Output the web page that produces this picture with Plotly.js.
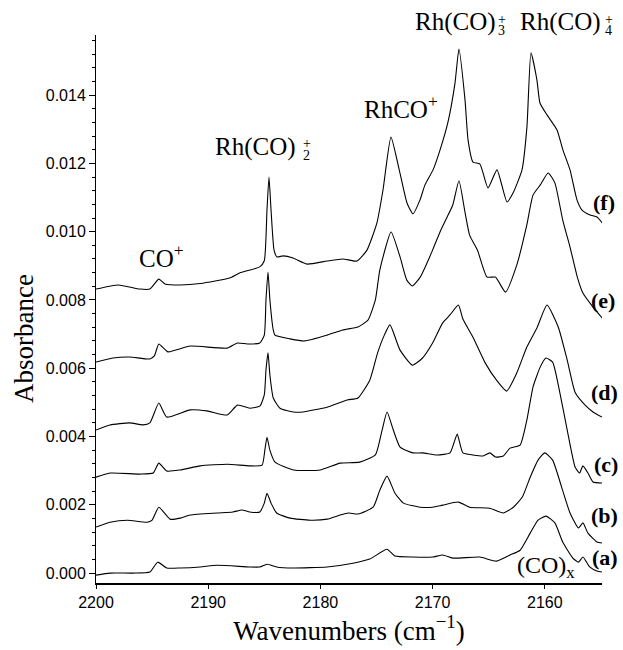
<!DOCTYPE html>
<html><head><meta charset="utf-8">
<script src="https://cdn.plot.ly/plotly-3.0.1.min.js"></script>
<style>html,body{margin:0;padding:0;background:#fff;}#chart{width:623px;height:650px;}</style>
</head><body><div id="chart"></div>
<script>
// Spectrum (a)
const wn_a = [2200.0,2198.75,2196.7,2195.2,2194.5,2193.7,2192.5,2190.7,2189.2,2186.3,2185.4,2184.76,2183.9,2182.4,2179.4,2177.1,2175.6,2174.06,2173.35,2171.75,2170.0,2169.1,2168.2,2165.8,2164.3,2163.1,2162.2,2161.3,2160.6,2159.9,2159.1,2158.4,2157.5,2157.0,2156.6,2156.0,2155.35,2154.9];
const abs_a = [-0.00006,0.00000,0.00000,0.00003,0.00032,0.00015,0.00015,0.00018,0.00023,0.00018,0.00018,0.00026,0.00018,0.00015,0.00018,0.00029,0.00041,0.00070,0.00050,0.00047,0.00047,0.00053,0.00044,0.00047,0.00035,0.00053,0.00067,0.00117,0.00155,0.00167,0.00147,0.00091,0.00044,0.00032,0.00047,0.00018,0.00006,0.00003];
// Spectrum (b)
const wn_b = [2200.0,2198.75,2197.2,2195.45,2195.0,2194.4,2193.4,2192.5,2191.6,2189.2,2187.8,2187.0,2186.3,2185.4,2185.0,2184.76,2184.4,2183.9,2182.7,2180.9,2179.4,2178.25,2177.5,2176.65,2175.3,2174.7,2174.06,2173.35,2172.6,2171.1,2170.0,2169.1,2167.7,2166.7,2164.9,2163.7,2162.8,2162.0,2161.3,2160.6,2160.0,2159.3,2158.5,2157.75,2157.0,2156.6,2156.15,2155.35,2154.9];
const abs_b = [0.00135,0.00149,0.00155,0.00149,0.00155,0.00193,0.00158,0.00161,0.00170,0.00176,0.00179,0.00185,0.00179,0.00179,0.00205,0.00234,0.00205,0.00176,0.00161,0.00155,0.00158,0.00170,0.00176,0.00173,0.00193,0.00243,0.00284,0.00234,0.00205,0.00193,0.00193,0.00199,0.00208,0.00193,0.00190,0.00176,0.00193,0.00223,0.00281,0.00331,0.00352,0.00331,0.00252,0.00176,0.00132,0.00147,0.00117,0.00091,0.00088];
// Spectrum (c)
const wn_c = [2200.0,2198.75,2196.1,2194.9,2194.4,2193.7,2192.5,2190.7,2188.3,2186.3,2185.2,2184.95,2184.76,2184.5,2184.05,2182.4,2180.0,2178.25,2176.5,2175.1,2174.5,2174.06,2173.5,2172.9,2171.75,2170.9,2169.6,2168.45,2168.1,2167.8,2167.3,2166.4,2165.5,2164.9,2164.4,2163.7,2163.1,2162.2,2161.6,2161.05,2160.4,2159.9,2159.3,2158.65,2158.0,2157.3,2156.9,2156.6,2156.15,2155.7,2154.9];
const abs_c = [0.00281,0.00293,0.00290,0.00293,0.00322,0.00299,0.00302,0.00314,0.00319,0.00314,0.00316,0.00360,0.00398,0.00360,0.00325,0.00302,0.00302,0.00322,0.00325,0.00346,0.00419,0.00472,0.00419,0.00369,0.00352,0.00352,0.00346,0.00352,0.00381,0.00407,0.00352,0.00346,0.00343,0.00352,0.00340,0.00343,0.00366,0.00375,0.00448,0.00545,0.00604,0.00630,0.00618,0.00527,0.00419,0.00311,0.00293,0.00314,0.00293,0.00267,0.00264];
// Spectrum (d)
const wn_d = [2200.0,2198.75,2197.0,2195.8,2195.2,2194.4,2193.7,2191.6,2190.1,2188.3,2187.4,2186.3,2185.4,2185.0,2184.85,2184.67,2184.5,2184.2,2183.6,2182.4,2181.55,2179.4,2177.6,2176.65,2175.6,2174.9,2174.3,2173.8,2172.9,2171.8,2170.9,2170.0,2169.1,2168.45,2167.7,2167.3,2166.4,2165.3,2164.3,2163.4,2162.5,2161.6,2160.7,2159.8,2158.8,2158.0,2157.3,2156.4,2155.7,2154.9];
const abs_d = [0.00419,0.00434,0.00440,0.00434,0.00440,0.00498,0.00457,0.00478,0.00475,0.00463,0.00492,0.00483,0.00489,0.00522,0.00595,0.00645,0.00580,0.00513,0.00483,0.00472,0.00472,0.00486,0.00507,0.00513,0.00565,0.00645,0.00697,0.00727,0.00653,0.00609,0.00630,0.00674,0.00733,0.00756,0.00785,0.00744,0.00691,0.00615,0.00565,0.00533,0.00586,0.00662,0.00718,0.00785,0.00721,0.00624,0.00530,0.00492,0.00472,0.00457];
// Spectrum (e)
const wn_e = [2200.0,2198.5,2197.0,2195.2,2194.8,2194.4,2193.6,2191.6,2188.3,2187.4,2186.5,2185.4,2185.0,2184.85,2184.67,2184.5,2184.2,2184.05,2182.7,2181.4,2179.4,2178.0,2176.65,2175.76,2175.1,2174.7,2173.7,2172.9,2172.3,2171.8,2171.1,2170.5,2170.0,2169.3,2168.7,2168.2,2167.65,2167.1,2166.7,2166.0,2165.15,2164.4,2163.5,2162.5,2161.6,2161.05,2160.4,2159.7,2159.1,2158.4,2157.75,2157.1,2156.6,2155.7,2154.8];
const abs_e = [0.00618,0.00630,0.00633,0.00627,0.00636,0.00671,0.00648,0.00665,0.00659,0.00674,0.00671,0.00674,0.00697,0.00800,0.00882,0.00800,0.00712,0.00697,0.00686,0.00680,0.00697,0.00712,0.00721,0.00741,0.00800,0.00888,0.00999,0.00926,0.00858,0.00841,0.00867,0.00908,0.00946,0.01002,0.01043,0.01078,0.01149,0.01055,0.00990,0.00946,0.00867,0.00867,0.00823,0.00902,0.01020,0.01107,0.01137,0.01172,0.01143,0.01034,0.00955,0.00867,0.00820,0.00779,0.00744];
// Spectrum (f)
const wn_f = [2200.0,2198.0,2196.1,2195.2,2194.4,2193.85,2192.5,2190.7,2188.1,2187.2,2185.4,2185.0,2184.76,2184.58,2184.40,2184.13,2183.87,2183.33,2182.44,2181.19,2179.41,2177.99,2176.74,2175.85,2174.96,2174.42,2173.71,2172.91,2172.28,2171.75,2171.12,2170.68,2169.96,2169.34,2168.63,2168.0,2167.65,2167.11,2166.84,2166.40,2165.78,2165.06,2164.26,2163.37,2162.83,2162.03,2161.59,2161.23,2160.70,2160.43,2159.80,2158.91,2158.38,2157.75,2157.13,2156.7,2155.97,2155.35,2154.81];
const abs_f = [0.00832,0.00844,0.00832,0.00832,0.00861,0.00847,0.00844,0.00848,0.00864,0.00879,0.00897,0.00915,0.01064,0.01160,0.01064,0.00946,0.00926,0.00929,0.00923,0.00905,0.00914,0.00920,0.00914,0.00946,0.01026,0.01122,0.01277,0.01172,0.01084,0.01052,0.01093,0.01137,0.01181,0.01239,0.01321,0.01436,0.01535,0.01386,0.01269,0.01204,0.01198,0.01128,0.01181,0.01087,0.01113,0.01181,0.01307,0.01524,0.01444,0.01377,0.01342,0.01298,0.01239,0.01181,0.01093,0.01064,0.01049,0.01043,0.01023];

const seriesX = [wn_a, wn_b, wn_c, wn_d, wn_e, wn_f];
const seriesY = [abs_a, abs_b, abs_c, abs_d, abs_e, abs_f];
const curveNames = ['(a)','(b)','(c)','(d)','(e)','(f)'];
const xTickVals = [2200, 2190, 2180, 2170, 2160];
const xTickText = ['2200', '2190', '2180', '2170', '2160'];
const yTickVals = [0, 0.002, 0.004, 0.006, 0.008, 0.010, 0.012, 0.014];
const yTickText = ['0.000', '0.002', '0.004', '0.006', '0.008', '0.010', '0.012', '0.014'];

const serif = 'Liberation Serif, Times New Roman, serif';
const sans = 'Liberation Sans, Arial, sans-serif';

const traces = seriesX.map((xs, i) => ({
  x: xs, y: seriesY[i], type: 'scatter', mode: 'lines', name: curveNames[i],
  line: {color: '#000', width: 1.1, shape: 'spline', smoothing: 0.5},
  hoverinfo: 'x+y'
}));

function ann(text, x, y, opts) {
  return Object.assign({
    text: text, x: x, y: y, xref: 'paper', yref: 'paper', showarrow: false,
    xanchor: 'center', yanchor: 'middle',
    font: {family: serif, size: 25, color: '#000'}
  }, opts || {});
}
const scriptOpts = {xanchor: 'left', borderpad: 0, font: {family: serif, size: 14, color: '#000000'}};
const labelFont = {family: serif, size: 22, color: '#000', weight: 'bold'};

const annotations = [
  ann('CO<sup>+</sup>', 0.130, 0.597),
  ann('Rh(CO)', 0.399, 0.796, {xanchor: 'right'}),
  ann('+', 0.4071, 0.8011, scriptOpts),
  ann('2', 0.4071, 0.7810, scriptOpts),
  ann('RhCO<sup>+</sup>', 0.603, 0.869),
  ann('Rh(CO)', 0.794, 1.0237, {xanchor: 'right'}),
  ann('+', 0.7925, 1.0291, scriptOpts),
  ann('3', 0.7925, 1.0091, scriptOpts),
  ann('Rh(CO)', 1.002, 1.0237, {xanchor: 'right'}),
  ann('+', 1.004, 1.0291, scriptOpts),
  ann('4', 1.004, 1.0091, scriptOpts),
  ann('(f)', 1.030, 0.695, {xanchor: 'right', font: labelFont}),
  ann('(e)', 1.030, 0.516, {xanchor: 'right', font: labelFont}),
  ann('(d)', 1.036, 0.3485, {xanchor: 'right', font: labelFont}),
  ann('(c)', 1.036, 0.217, {xanchor: 'right', font: labelFont}),
  ann('(b)', 1.036, 0.124, {xanchor: 'right', font: labelFont}),
  ann('(a)', 1.036, 0.047, {xanchor: 'right', font: labelFont}),
  ann('(CO)<sub>x</sub>', 0.951, 0.030, {xanchor: 'right', font: {family: serif, size: 24, color: '#000'}}),
  ann('Absorbance', -0.1423, 0.4471, {textangle: -90, font: {family: serif, size: 27, color: '#000'}})
];

const layout = {
  width: 623, height: 650,
  margin: {l: 96, r: 21, t: 35, b: 67},
  paper_bgcolor: '#fff', plot_bgcolor: '#fff',
  showlegend: false,
  xaxis: {
    range: [2200, 2154.9], tickmode: 'array', tickvals: xTickVals, ticktext: xTickText,
    ticks: 'outside', ticklen: 4, tickwidth: 1, tickcolor: '#000',
    showline: true, linewidth: 2, linecolor: '#000', mirror: false,
    showgrid: false, zeroline: false, automargin: false,
    tickfont: {family: sans, size: 16, color: '#000'},
    title: {text: 'Wavenumbers (cm<sup>−1</sup>)', font: {family: serif, size: 27, color: '#000'}, standoff: 7}
  },
  yaxis: {
    range: [-0.00029, 0.01576], tickmode: 'array', tickvals: yTickVals, ticktext: yTickText,
    ticks: 'outside', ticklen: 6, tickwidth: 1, tickcolor: '#000',
    minor: {tickmode: 'linear', tick0: 0, dtick: 0.0004, ticks: 'outside', ticklen: 3, tickcolor: '#000', showgrid: false},
    showline: true, linewidth: 1, linecolor: '#000',
    showgrid: false, zeroline: false, automargin: false,
    tickfont: {family: sans, size: 16, color: '#000'}
  },
  annotations: annotations
};

Plotly.newPlot('chart', traces, layout, {displayModeBar: false, staticPlot: true});
</script>
</body></html>
